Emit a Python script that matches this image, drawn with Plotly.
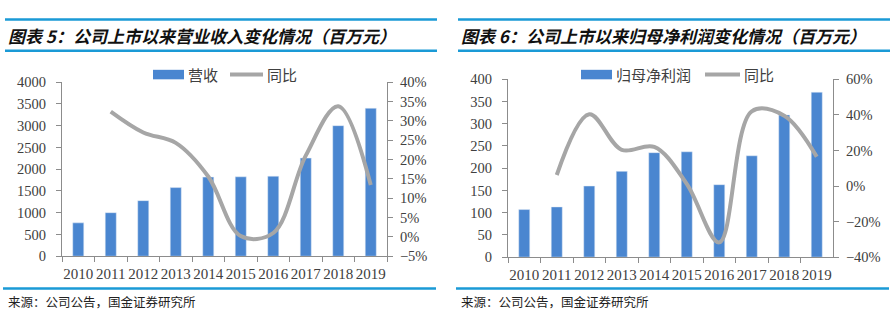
import plotly.graph_objects as go

W, H = 893, 326

years = ["2010", "2011", "2012", "2013", "2014", "2015", "2016", "2017", "2018", "2019"]

revenue = [766, 1000, 1277, 1577, 1818, 1825, 1839, 2255, 3000, 3401]
revenue_yoy = [None, 32.4, 27.0, 24.3, 15.6, 0.2, 1.0, 21.0, 33.8, 13.4]

net_profit = [107, 113, 160, 193, 235, 237, 163, 228, 320, 371]
net_profit_yoy = [None, 6.2, 40.4, 20.3, 22.0, 1.2, -31.7, 42.0, 39.5, 16.4]

titles = ["图表 5：公司上市以来营业收入变化情况（百万元）",
          "图表 6：公司上市以来归母净利润变化情况（百万元）"]
bar_names = ["营收", "归母净利润"]
line_name = "同比"
source = "来源：公司公告，国金证券研究所"

BAR = "#4a86d0"
LINE = "#a6a6a6"
RULE = "#1a9ad6"
AX = "#8c8c8c"
TXT = "#404040"
CJK = "Noto Sans CJK SC"
NUM = "Liberation Serif"


def px(x):
    return x / W


def py(y):
    return 1 - y / H


fig = go.Figure()

fig.add_trace(go.Bar(x=years, y=revenue, marker_color=BAR, width=0.34,
                     xaxis="x", yaxis="y", showlegend=False))
fig.add_trace(go.Scatter(x=years, y=revenue_yoy, mode="lines",
                         line=dict(color=LINE, width=4, shape="spline", smoothing=1),
                         xaxis="x", yaxis="y2", showlegend=False))
fig.add_trace(go.Bar(x=years, y=net_profit, marker_color=BAR, width=0.34,
                     xaxis="x2", yaxis="y3", showlegend=False))
fig.add_trace(go.Scatter(x=years, y=net_profit_yoy, mode="lines",
                         line=dict(color=LINE, width=4, shape="spline", smoothing=1),
                         xaxis="x2", yaxis="y4", showlegend=False))

tickfont = dict(family=NUM, size=14.5, color=TXT)


def xaxis(dom, anchor):
    return dict(domain=dom, anchor=anchor, type="category", range=[-0.5, 9.5],
                showline=True, linecolor=AX, linewidth=1, ticks="outside",
                tickson="boundaries", ticklen=5, tickcolor=AX, showgrid=False,
                tickangle=0, tickfont=dict(family=NUM, size=15, color=TXT),
                ticklabelstandoff=4, fixedrange=True)


def yaxis(dom, anchor, rng, dtick, side="left", suffix="", overlay=None):
    d = dict(domain=dom, anchor=anchor, range=rng, dtick=dtick, side=side,
             showline=True, linecolor=AX, linewidth=1, ticks="outside",
             ticklen=5, tickcolor=AX, showgrid=False, zeroline=False,
             tickfont=tickfont, ticksuffix=suffix, fixedrange=True,
             ticklabelstandoff=7 if side == "left" else 4)
    if overlay:
        d["overlaying"] = overlay
    return d


ydom_l = [py(261), py(78)]
ydom_r = [py(262), py(75)]

fig.update_layout(
    width=W, height=H,
    margin=dict(l=0, r=0, t=0, b=0),
    paper_bgcolor="white", plot_bgcolor="white",
    bargap=0.6,
    xaxis=xaxis([px(62), px(387)], "y"),
    yaxis=yaxis(ydom_l, "x", [0, 4000], 500),
    yaxis2=yaxis(ydom_l, "x", [-5, 40], 5, side="right", suffix="%", overlay="y"),
    xaxis2=xaxis([px(508), px(833)], "y3"),
    yaxis3=yaxis(ydom_r, "x2", [0, 400], 50),
    yaxis4=yaxis(ydom_r, "x2", [-40, 60], 20, side="right", suffix="%", overlay="y3"),
)

shapes = []
annotations = []

# panel frames: blue rules above/below the title and above the source note
for x0, x1, tx in [(5, 437, 6), (458, 890, 459)]:
    for y in (12, 45):
        shapes.append(dict(type="line", xref="paper", yref="paper",
                           x0=px(x0), x1=px(x1), y0=py(y), y1=py(y),
                           line=dict(color=RULE, width=2.5)))
    shapes.append(dict(type="line", xref="paper", yref="paper",
                       x0=px(x0 - 2), x1=px(x1 - 1), y0=py(295), y1=py(295),
                       line=dict(color=RULE, width=2.5)))
    annotations.append(dict(text=source, x=px(tx), y=py(309), xref="paper", yref="paper",
                            xanchor="left", yanchor="middle", showarrow=False,
                            font=dict(family=CJK, size=12.5, color="#222")))

for i, (t, tx) in enumerate(zip(titles, [6, 459])):
    annotations.append(dict(text="<b><i>" + t + "</i></b>", x=px(tx), y=py(28.5),
                            xref="paper", yref="paper", xanchor="left", yanchor="middle",
                            showarrow=False, font=dict(family=CJK, size=17, color="#111")))

# legends: bar swatch + label, line swatch + label
legend_spec = [
    (153, 184, bar_names[0], 230, 263, 265),
    (581, 612, bar_names[1], 705, 740, 742),
]
LY = 70
for bx0, bx1, bname, lx0, lx1, ltx in legend_spec:
    shapes.append(dict(type="rect", xref="paper", yref="paper",
                       x0=px(bx0), x1=px(bx1), y0=py(LY + 5), y1=py(LY - 5),
                       fillcolor=BAR, line=dict(width=0)))
    annotations.append(dict(text=bname, x=px(bx1 + 2), y=py(LY), xref="paper", yref="paper",
                            xanchor="left", yanchor="middle", showarrow=False,
                            font=dict(family=CJK, size=15, color=TXT)))
    shapes.append(dict(type="line", xref="paper", yref="paper",
                       x0=px(lx0), x1=px(lx1), y0=py(LY), y1=py(LY),
                       line=dict(color=LINE, width=4)))
    annotations.append(dict(text=line_name, x=px(ltx), y=py(LY), xref="paper", yref="paper",
                            xanchor="left", yanchor="middle", showarrow=False,
                            font=dict(family=CJK, size=15, color=TXT)))

fig.update_layout(shapes=shapes, annotations=annotations)

fig.write_html("out.html", include_plotlyjs=True, config=dict(displayModeBar=False))
